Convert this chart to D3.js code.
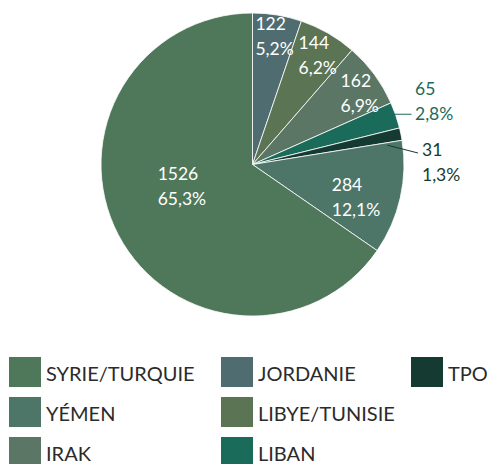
<!DOCTYPE html>
<html>
<head>
<meta charset="utf-8">
<script src="https://cdn.jsdelivr.net/npm/d3@7"></script>
<style>
  body { margin: 0; background: #fff; }
  svg text { font-family: Lato, "Open Sans", sans-serif; }
</style>
</head>
<body>
<div id="chart"></div>
<script>
// data, in slice order (clockwise from 12 o'clock)
const categories = ["JORDANIE", "LIBYE/TUNISIE", "IRAK", "LIBAN", "TPO", "YÉMEN", "SYRIE/TURQUIE"];
const values = [122, 144, 162, 65, 31, 284, 1526];
const percents = ["5,2%", "6,2%", "6,9%", "2,8%", "1,3%", "12,1%", "65,3%"];
const legendOrder = ["SYRIE/TURQUIE", "JORDANIE", "TPO", "YÉMEN", "LIBYE/TUNISIE", "IRAK", "LIBAN"];

const colors = {
    "JORDANIE": "#4f6d70",
    "LIBYE/TUNISIE": "#5b7453",
    "IRAK": "#5b7665",
    "LIBAN": "#1a6b59",
    "TPO": "#153a31",
    "YÉMEN": "#4d7669",
    "SYRIE/TURQUIE": "#4f775a"
};

const width = 487, height = 464;
const cx = 252.5, cy = 164.5, radius = 151.5;
const labelSize = '17.5px';

const svg = d3.select('#chart').append('svg')
    .attr('width', width)
    .attr('height', height);

const g = svg.append('g')
    .attr('transform', 'translate(' + cx + ',' + cy + ')');

const data = categories.map(function (c, i) {
    return { name: c, value: values[i], pct: percents[i] };
});

const pie = d3.pie().sort(null).value(function (d) { return d.value; });
const arcs = pie(data);
const arc = d3.arc().innerRadius(0).outerRadius(radius);

g.selectAll('path.slice')
    .data(arcs)
    .enter().append('path')
    .attr('class', 'slice')
    .attr('d', arc)
    .attr('fill', function (d) { return colors[d.data.name]; })
    .attr('stroke', '#fff')
    .attr('stroke-width', 0.8);

// inside labels: radius factor and small angle shift
const labelPos = {
    "JORDANIE": { r: 0.86, da: 0.006 },
    "LIBYE/TUNISIE": { r: 0.84, da: 0.016 },
    "IRAK": { r: 0.85, da: 0.05 },
    "YÉMEN": { r: 0.715, da: 0.078 },
    "SYRIE/TURQUIE": { r: 0.487, da: 0.19 }
};
const lineGap = 25;

function twoLines(sel, x, y, a, b) {
    sel.append('tspan').attr('x', x).attr('y', y).text(a);
    sel.append('tspan').attr('x', x).attr('y', y + lineGap).text(b);
}

arcs.forEach(function (d) {
    const mid = (d.startAngle + d.endAngle) / 2;
    const name = d.data.name;

    if (name === "LIBAN" || name === "TPO") {
        const color = colors[name];
        let p0, p1, tx, ty;
        if (name === "LIBAN") {
            p0 = [Math.sin(mid) * (radius - 10), -Math.cos(mid) * radius - 1];
            p1 = [159, p0[1]];
            tx = 162.5; ty = p0[1] + 6 - lineGap;
        } else {
            p0 = [Math.sin(mid + 0.06) * radius * 0.9, -Math.cos(mid + 0.06) * radius * 0.9];
            p1 = [165.5, -11.5];
            tx = 169.5; ty = p1[1] + 3;
        }
        g.append('line')
            .attr('x1', p0[0]).attr('y1', p0[1])
            .attr('x2', p1[0]).attr('y2', p1[1])
            .attr('stroke', color)
            .attr('stroke-width', 1);
        const t = g.append('text')
            .attr('fill', color)
            .style('font-size', labelSize);
        twoLines(t, tx, ty, d.data.value, d.data.pct);
        return;
    }

    const lp = labelPos[name];
    const a = mid + lp.da;
    const x = Math.sin(a) * radius * lp.r, y = -Math.cos(a) * radius * lp.r;
    const t = g.append('text')
        .attr('fill', '#fff')
        .style('font-size', labelSize);
    twoLines(t, 0, y - 6, d.data.value, d.data.pct);
    // left align both lines, block centred on the label point
    const w = t.node().getBBox().width;
    t.selectAll('tspan').attr('x', x - w / 2);
});

// legend
const colX = [9, 221, 411];
const rowY = [357, 397, 437];
const legendPos = [[0, 0], [1, 0], [2, 0], [0, 1], [1, 1], [0, 2], [1, 2]];

const legend = svg.selectAll('.legend')
    .data(legendOrder)
    .enter().append('g')
    .attr('class', 'legend')
    .attr('transform', function (d, i) {
        return 'translate(' + colX[legendPos[i][0]] + ',' + rowY[legendPos[i][1]] + ')';
    });

legend.append('rect')
    .attr('width', 32)
    .attr('height', 30)
    .attr('fill', function (d) { return colors[d]; });

legend.append('text')
    .attr('x', 37)
    .attr('y', 24)
    .attr('fill', '#2b2b2b')
    .style('font-size', '20px')
    .text(function (d) { return d; });
</script>
</body>
</html>
